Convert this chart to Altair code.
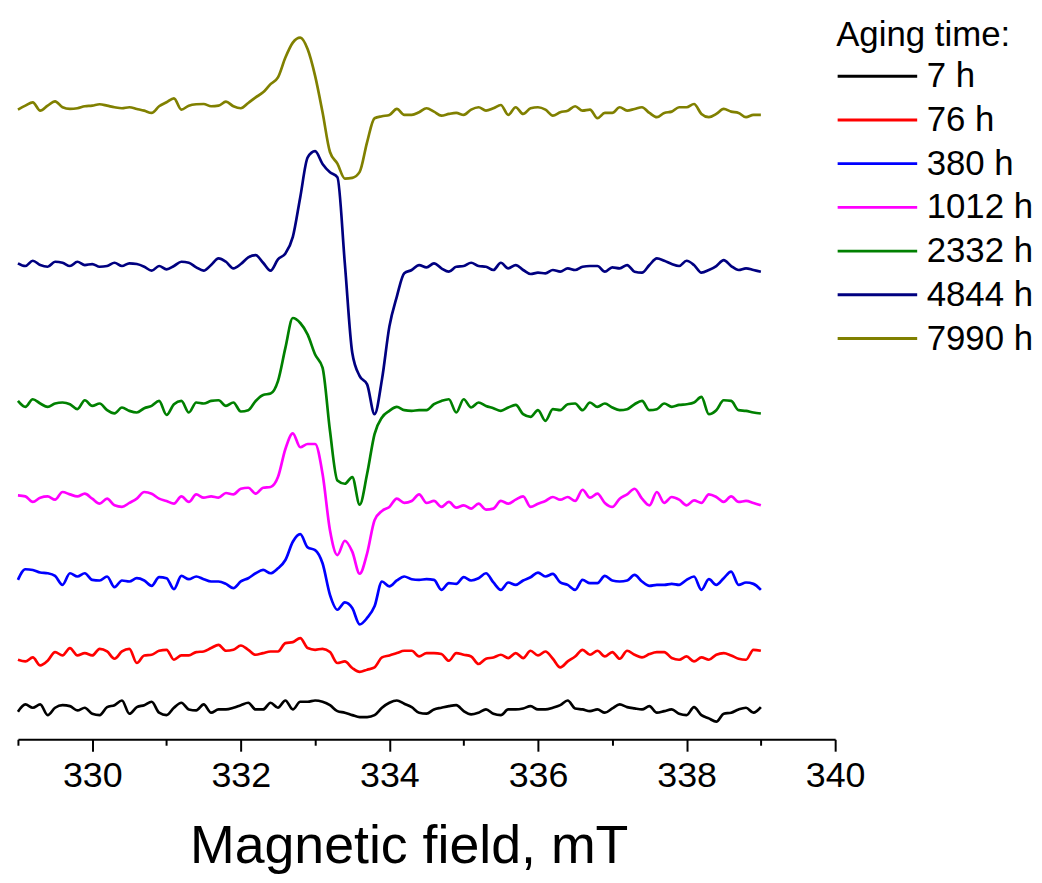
import altair as alt
import pandas as pd

# magnetic field sampling grid, mT (0.1 mT steps from 329.0 to 339.0)
field = [round(329.0 + 0.1 * i, 1) for i in range(101)]

series_names = ["7 h", "76 h", "380 h", "1012 h", "2332 h", "4844 h", "7990 h"]
series_colors = ["#000000", "#FF0000", "#0000FF", "#FF00FF", "#008000", "#000080", "#808000"]
# vertical stacking offset of each spectrum (arbitrary units)
offsets = [30, 85, 164, 245, 337, 477, 634]

s_7h = [-2.3, 5, 1.7, 5, -5.7, 1.7, 4.3, 3.3, -1, 1.7,
        -4.3, -5.7, 2.3, 4.3, 9, -4.3, 2.3, 4.3, 7.7, -3.3,
        -5.7, 1.7, 6.7, 0, -1, 5, -3.3, 0, 0, 1.7,
        4.3, 6.7, 0, 0, 6.7, 1.7, 9, 0, 7.7, 7.7,
        9, 7.7, 4.3, -1.7, -3.3, -5.7, -7.7, -7.7, -5.7, 1.7,
        6.7, 9, 5.7, 2.3, -3.3, -4.3, 0, 1.7, 3.3, 4.3,
        -1.7, -5, -3.3, 0, -4.3, -5.7, 0, 0, 1, 3.3,
        0, 0, 1.7, 4.3, 9, 1, 0, -1.7, 0, -3.3,
        1, 5, 2.3, 1, 0, 3.3, -3.3, -1.7, 0, -4.3,
        -5.7, 2.3, -5.7, -9, -12.3, -4.3, -3.3, 0, 1.7, -3.3,
        2.3]

s_76h = [-5, -6.7, -2.7, -10.7, -6, 2.7, -0.7, 6.7, -0.7, 1.7,
         -0.7, 6, 3.3, -4, 3.3, 6, -8.3, -0.7, 0, 4,
         5, -5, -0.7, -0.7, 2.7, 3.3, 6.7, 10, 4, 5,
         9.3, 5, 0, 1.7, 3.3, 3.3, 11.7, 12.7, 16.7, 6.7,
         5, 6, 2.7, -8.3, -6.7, -13.3, -17.3, -15, -12.7, -2.7,
         -0.7, 1.7, 4, 4, -1.7, 1.7, 1.7, 0.7, -6, 1.7,
         0, -1.7, -9.3, -4, -2.7, 0, -3.3, 1.7, -3.3, 4,
         -0.7, 3.3, -4, -12.7, -6.7, -1.7, 5, 0, 4, -1.7,
         2.7, -4, 4, 0, -2.7, 0.7, 2.7, 2.7, -3.3, -5,
         -1.7, -6.7, -2.7, -5, 0, 1.7, -0.7, -4, -5, 5,
         4]

s_380h = [-3.7, 7, 6.3, 3.7, 3, 0.3, -8.7, 3, -0.3, 3,
          -3.7, -4.3, -0.3, -11, -4.3, -5.3, -2, -4.3, -9.7, -1,
          -2, -13, 0.3, -3, -0.3, -3, -5.3, -5.3, -7.7, -12,
          -5.3, -2, 3, 6.3, 3, 8, 16.3, 34.7, 42.3, 29,
          26.3, 13, -18.7, -33.7, -26.3, -32, -48.5, -42, -30.3, -5.3,
          -10.3, -4.3, -0.3, -3, -3.7, -3, -3.7, -13.7, -7, -7.7,
          -1, -4.3, -2, 3, -6.3, -13.7, -6.3, -8.7, -4.3, -1,
          3.7, -0.3, 2.3, -6.3, -8.7, -13.7, -3.7, -7, -7, 0.3,
          -4.3, -5.3, -4.3, 1.3, -5.3, -9.7, -8.7, -8.7, -7.7, -8.7,
          -3.7, -0.3, -13.7, -3, -8.7, -2, 4.7, -8.7, -6.3, -7.7,
          -13.7]

s_1012h = [0.3, -0.7, -6.3, -2, -0.7, -4, 3.7, 1.3, -0.7, 2,
           -3, -8, -3, -9.7, -11.3, -7.3, -3, 3.7, 2, -3,
           -5.3, -8, -0.7, -6.3, 1.3, -2, -0.7, -2, 2.7, 1.3,
           7, 8, 2, 8, 8.7, 18.7, 47, 62.7, 48.7, 52,
           52, 22, -34.7, -59.7, -45.3, -56.3, -78.5, -58, -24.7, -15.3,
           -11.3, -3, -7.3, -5.3, 1.3, -7.3, -5.3, -11.3, -6.3, -12,
           -9.7, -13, -8, -14, -13, -5.3, -8, -4, -0.7, -11.3,
           -8, -5.3, -1.3, -4, -1.3, -5.3, 6, -2, 2, -7.3,
           -11.3, -3, 1.3, 7, -3, -9.7, 3.7, -7.3, -1.3, -4,
           -9.7, -4.7, -7.3, 1.3, -1.3, -6.3, -0.7, -6.3, -5.3, -7.3,
           -9.7]

s_2332h = [3.3, -2.7, 5, 0.7, -2.7, 0.7, 1.7, 0, -5, 4,
           -1.7, 0.7, -6, -9.3, -3.3, -6.7, -8.3, -4, -1.7, 3.3,
           -10.7, 0, 3.3, -8.3, 1.7, 0.7, 3.3, 4, -1.7, 1.7,
           -7.3, -6, 3.3, 9.3, 10.7, 23.3, 56.7, 86.7, 81.7, 70,
           50, 36.7, -26.7, -76.7, -80, -73.3, -101, -70, -30, -13.3,
           -6.7, -2.7, -6, -6.7, -6, -6, 0, 3.3, 5, -8.3,
           5, -3.3, 1.7, -1.7, -4, -6.7, -3.3, -0.7, -10, -12.7,
           -6, -16.7, -5, -6, 0, 0.7, -6, 1.7, -2.7, 0.7,
           -3.3, -6, -5, 0, 3.3, -6, -5, 0.7, -2.7, -0.7,
           0, 1.7, 7.3, -10, -6, 4, 3.3, -6, -6.7, -8.3,
           -9.3]

s_4844h = [1.7, -1, 4.3, 0, -1.7, 3.3, 2.3, -1, 3.3, 0,
           1, -1.7, -1, 2.3, -1, 1.7, 1, -1.7, -5.7, -1,
           -4.3, -1, 3.3, 2.3, -2.3, -5.7, 0, 6.7, 3.3, -3.3,
           1, 7.7, 10, 2.3, -5.7, 5.7, 11.7, 28.3, 68.3, 108.3,
           114.5, 101.7, 93.3, 88.3, 1.7, -88.3, -111.7, -120, -150, -115,
           -61.7, -31.7, -8.3, -5, 0, -2.3, 1.7, -3.3, -6.7, -1.7,
           -1, 2.3, -1, -1.7, -5, 2.3, -3.3, 0, -5, -9,
           -7.7, -8.3, -5, -6.7, -3.3, -5, -1.7, -1, -1, -6.7,
           -2.3, -3.3, 0, -6.7, -7.7, 0, 6.7, 4.3, 1, -1,
           4.3, 0, -7.7, -5, -1, 5, -1, -5, -3.3, -5,
           -6.7]

s_7990h = [-0.7, 3.3, 6.7, -1.7, 3.3, 7.7, 1.7, 0, 0.7, 2.7,
           3.3, 4.7, 3.3, 1.7, 0.7, 1.7, 0, -1.7, -4, 2.7,
           6.7, 10.7, -0.7, 3.3, 4.7, 5, 2.7, 3.3, 7.3, 2.7,
           0.7, 6, 11.7, 16.7, 25, 31.7, 51.7, 66.7, 71.7, 60,
           33.3, -3.3, -43.3, -55, -70, -69.3, -63.3, -33.3, -9.3, -7.3,
           -6, 0, -6, -6, -3.3, 0.7, -2.7, -6.7, -5, -4,
           -6, -0.7, 1.7, -1.7, 0.7, 4, -6, 1.7, -5, 0.7,
           1.7, -0.7, -6.7, -3.3, -1.7, 2.7, -1.7, -0.7, -9.3, -4,
           -4, 1.7, -1.7, 0, 1.7, -4, -8.3, -4, -2.7, 1.7,
           1.7, 5, -5, -8.3, -5, 0, -2.7, -4, -8.3, -6,
           -6]

signals = [s_7h, s_76h, s_380h, s_1012h, s_2332h, s_4844h, s_7990h]

rows = []
for name, off, sig in zip(series_names, offsets, signals):
    for i, (b, v) in enumerate(zip(field, sig)):
        rows.append({"field": b, "intensity": off + v, "series": name, "order": i})
df = pd.DataFrame(rows)

FONT = "Liberation Sans"

chart = alt.Chart(df).mark_line(strokeWidth=2.7, interpolate="monotone").encode(
    x=alt.X(
        "field:Q",
        scale=alt.Scale(domain=[329, 340], nice=False, zero=False),
        axis=alt.Axis(
            title="Magnetic field, mT",
            values=list(range(329, 341)),
            labelExpr="datum.value % 2 == 0 ? datum.label : ''",
            format="d",
            labelFlush=False,
            labelOverlap=False,
            tickSize={"condition": {"test": "datum.value % 2 == 0", "value": 12}, "value": 6},
            tickWidth=2,
            domainWidth=2,
            domainColor="black",
            tickColor="black",
            grid=False,
            labelFont=FONT,
            labelFontSize=36,
            labelColor="black",
            labelPadding=8,
            titleFont=FONT,
            titleFontSize=54,
            titleFontWeight="normal",
            titleColor="black",
            titlePadding=26,
            titleX=393,
        ),
    ),
    y=alt.Y("intensity:Q", scale=alt.Scale(domain=[0, 729], nice=False, zero=False), axis=None),
    color=alt.Color(
        "series:N",
        scale=alt.Scale(domain=series_names, range=series_colors),
        legend=alt.Legend(
            title="Aging time:",
            orient="none",
            legendX=823,
            legendY=4,
            symbolType="stroke",
            symbolSize=6400,
            symbolStrokeWidth=3,
            clipHeight=30,
            rowPadding=9,
            labelOffset=8,
            labelFont=FONT,
            labelFontSize=35,
            labelColor="black",
            labelLimit=300,
            titleFont=FONT,
            titleFontSize=35,
            titleFontWeight="normal",
            titleColor="black",
            titleLimit=400,
            titlePadding=8,
            padding=0,
        ),
    ),
    order="order:Q",
).properties(
    width=822, height=729,
    padding={"left": 4, "top": 4, "right": 0, "bottom": 0},
).configure_view(stroke=None)

chart.save("out.html", embed_options={"renderer": "svg", "actions": False})
